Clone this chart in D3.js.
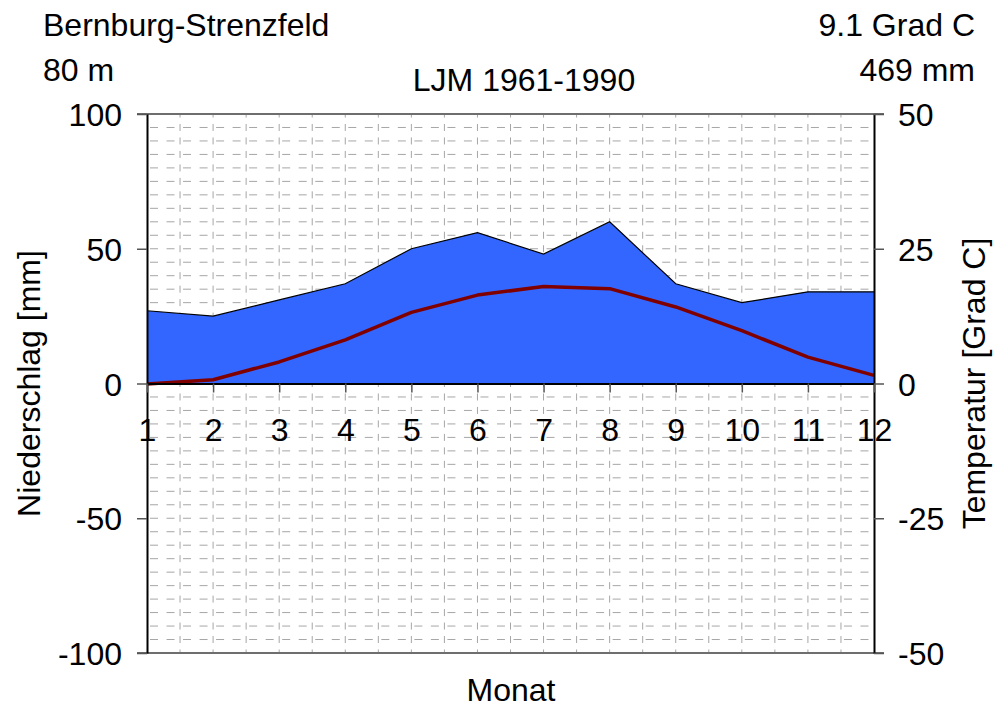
<!DOCTYPE html>
<html>
<head>
<meta charset="utf-8">
<script src="https://cdn.jsdelivr.net/npm/d3@7"></script>
<style>
  html, body { margin: 0; padding: 0; background: #fff; }
  text { font-family: "Liberation Sans", Arial, sans-serif; fill: #000; }
</style>
</head>
<body>
<svg id="chart" width="993" height="707"></svg>
<script>
// ---- data ----
const months = [1, 2, 3, 4, 5, 6, 7, 8, 9, 10, 11, 12];
const precipitation = [27, 25, 31, 37, 50, 56, 48, 60, 37, 30, 34, 34];   // mm
const temperature = [-0.1, 0.7, 4.0, 8.1, 13.2, 16.4, 18.0, 17.6, 14.2, 9.8, 4.9, 1.5]; // Grad C
const precipTicks = [-100, -50, 0, 50, 100];
const tempTicks = [-50, -25, 0, 25, 50];
const stationName = "Bernburg-Strenzfeld";
const elevation = "80 m";
const period = "LJM 1961-1990";
const meanTemp = "9.1 Grad C";
const sumPrecip = "469 mm";

// ---- layout ----
const L = 147, R = 874, T = 114, B = 653;
const FS = 32;
const svg = d3.select("#chart");

const x = d3.scaleLinear().domain([1, 12]).range([L, R]);
const yP = d3.scaleLinear().domain([-100, 100]).range([B, T]);
const yT = d3.scaleLinear().domain([-50, 50]).range([B, T]);

// ---- grid ----
const hStep = Math.abs(yP(5) - yP(0));
const vStep = x(1.5) - x(1);
const grid = svg.append("g");
grid.selectAll("line.h").data(d3.range(-95, 100, 5)).join("line")
  .attr("x1", L).attr("x2", R)
  .attr("y1", d => yP(d)).attr("y2", d => yP(d))
  .attr("stroke", "#a6a6a6").attr("stroke-width", 1)
  .attr("stroke-dasharray", `8,${vStep / 2 - 8}`).attr("stroke-dashoffset", -3);
grid.selectAll("line.v").data(d3.range(1.5, 12, 0.5)).join("line")
  .attr("x1", d => x(d)).attr("x2", d => x(d))
  .attr("y1", T).attr("y2", B)
  .attr("stroke", "#a6a6a6").attr("stroke-width", 1)
  .attr("stroke-dasharray", `7,${hStep - 7}`).attr("stroke-dashoffset", 3.5);

// ---- precipitation area ----
const area = d3.area().x((d, i) => x(months[i])).y0(yP(0)).y1(d => yP(d));
svg.append("path").datum(precipitation)
  .attr("d", area).attr("fill", "#3366ff");
const topLine = d3.line().x((d, i) => x(months[i])).y(d => yP(d));
svg.append("path").datum(precipitation)
  .attr("d", topLine).attr("fill", "none").attr("stroke", "#000").attr("stroke-width", 1.2);

// ---- temperature line ----
const tLine = d3.line().x((d, i) => x(months[i])).y(d => yT(d));
svg.append("path").datum(temperature)
  .attr("d", tLine).attr("fill", "none").attr("stroke", "#800000")
  .attr("stroke-width", 3.5).attr("stroke-linejoin", "round");

// ---- frame top / bottom ----
[T, B].forEach(v => {
  svg.append("line").attr("x1", L - 10).attr("x2", R + 10)
    .attr("y1", v).attr("y2", v)
    .attr("stroke", "#6e6e6e").attr("stroke-width", 2);
});

// ---- axes ----
const fmt = d => String(d);
const leftAxis = d3.axisLeft(yP).tickValues(precipTicks).tickSize(10).tickSizeOuter(0).tickPadding(15).tickFormat(fmt);
const gl = svg.append("g").attr("transform", `translate(${L},0)`).call(leftAxis);
const rightAxis = d3.axisRight(yT).tickValues(tempTicks).tickSize(10).tickSizeOuter(0).tickPadding(14).tickFormat(fmt);
const gr = svg.append("g").attr("transform", `translate(${R},0)`).call(rightAxis);
const bottomAxis = d3.axisBottom(x).tickValues(months).tickSize(9).tickSizeOuter(0).tickPadding(26).tickFormat(fmt);
const gb = svg.append("g").attr("transform", `translate(0,${yP(0)})`).call(bottomAxis);

[gl, gr, gb].forEach(g => {
  g.select(".domain").attr("stroke", "#000").attr("stroke-width", 2);
  g.selectAll(".tick line").attr("stroke", "#555").attr("stroke-width", 1.5);
  g.selectAll(".tick text").attr("font-size", FS)
    .attr("font-family", "Liberation Sans, Arial, sans-serif").attr("fill", "#000");
});
gl.selectAll(".tick text").attr("dy", "0.36em");
gr.selectAll(".tick text").attr("dy", "0.36em");

// ---- titles ----
svg.append("text").attr("x", 43).attr("y", 36).attr("font-size", FS).text(stationName);
svg.append("text").attr("x", 43).attr("y", 81).attr("font-size", FS).text(elevation);
svg.append("text").attr("x", 524).attr("y", 91).attr("font-size", FS).attr("text-anchor", "middle").text(period);
svg.append("text").attr("x", 975).attr("y", 36).attr("font-size", FS).attr("text-anchor", "end").text(meanTemp);
svg.append("text").attr("x", 975).attr("y", 81).attr("font-size", FS).attr("text-anchor", "end").text(sumPrecip);

svg.append("text").attr("transform", `translate(40,${yP(0)}) rotate(-90)`)
  .attr("font-size", FS).attr("text-anchor", "middle").text("Niederschlag [mm]");
svg.append("text").attr("transform", `translate(985,${yP(0)}) rotate(-90)`)
  .attr("font-size", FS).attr("text-anchor", "middle").text("Temperatur [Grad C]");
svg.append("text").attr("x", 511).attr("y", 701)
  .attr("font-size", FS).attr("text-anchor", "middle").text("Monat");
</script>
</body>
</html>
